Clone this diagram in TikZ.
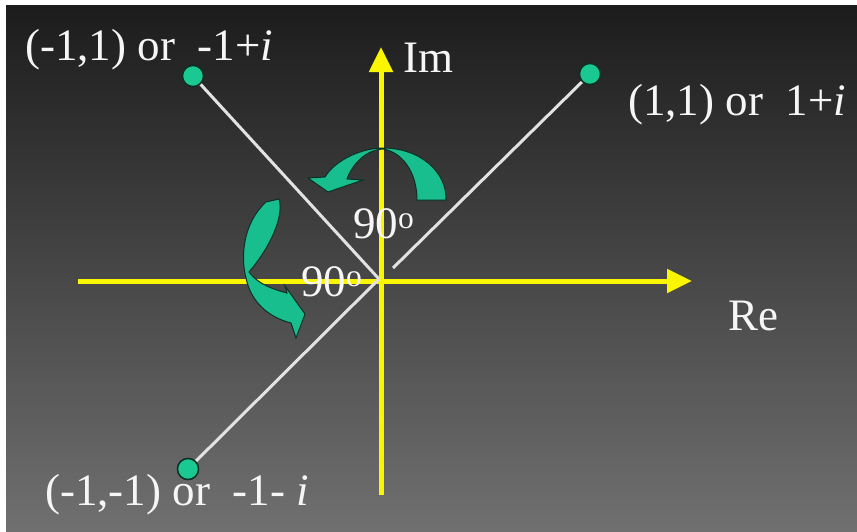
\documentclass[tikz,border=0pt]{standalone}
\usepackage{fontspec}
\setmainfont{Liberation Serif}
\usetikzlibrary{arrows.meta}
\definecolor{bgtop}{RGB}{28,28,28}
\definecolor{bgmid}{RGB}{62,62,62}
\definecolor{bgbot}{RGB}{112,112,112}
\definecolor{dotfill}{RGB}{26,200,146}
\definecolor{dotline}{RGB}{12,48,36}
\definecolor{arrfill}{RGB}{24,190,142}
\definecolor{axisyellow}{RGB}{250,246,0}
\definecolor{txt}{RGB}{246,246,246}
\tikzset{
  axis/.style={draw=axisyellow, line width=5pt, -{Triangle[length=25pt,width=23pt]}},
  ray/.style={draw=txt!92!black, line width=3pt},
  pt/.style={circle, fill=dotfill, draw=dotline, line width=1.4pt, minimum size=21pt, inner sep=0pt},
  lbl/.style={anchor=base west, text=txt, inner sep=0pt, font=\fontsize{45}{52}\selectfont},
  curvarrow/.style={fill=arrfill, draw=dotline, line width=1pt, line join=miter}
}
\begin{document}
\begin{tikzpicture}[x=1pt,y=-1pt]
\useasboundingbox (0,0) rectangle (857,531);
\fill[white] (0,0) rectangle (857,531);
\shade[top color=bgtop, middle color=bgmid, bottom color=bgbot] (6,5) rectangle (857,531);

% axes
\coordinate (O) at (381,281);
\coordinate (ybot) at (381,495);
\coordinate (ytop) at (381,47);
\coordinate (xleft) at (78,281);
\coordinate (xright) at (692,281);
\draw[axis] (xleft) -- (xright);
\draw[axis] (ybot) -- (ytop);

% points
\node[pt] (p1) at (193,76) {};
\node[pt] (p2) at (590,74) {};
\node[pt] (p3) at (188,469) {};
\coordinate (o1) at (379,279);
\coordinate (o2) at (393,268);
\draw[ray] (p1) -- (o1);
\draw[ray] (p3) -- (o1);
\draw[ray] (p2) -- (o2);
\node[pt] at (193,76) {};
\node[pt] at (590,74) {};
\node[pt] at (188,469) {};

% curved arrows
\draw[curvarrow] (417,200) -- (446,200)
  .. controls (447,172) and (420,148) .. (383,148)
  .. controls (362,148) and (335,160) .. (325,177)
  -- (308,178) -- (328,192) -- (363,180) -- (347,179)
  .. controls (352,165) and (365,150) .. (383,149)
  .. controls (402,152) and (417,172) .. cycle;

\draw[curvarrow] (266,202) -- (279,199)
  .. controls (284,215) and (272,245) .. (249,272)
  .. controls (258,284) and (272,289) .. (287,293)
  -- (285,286) -- (305,314) -- (296,338) -- (291,323)
  .. controls (268,317) and (251,302) .. (246,278)
  .. controls (240,255) and (244,222) .. cycle;

% labels
\node[lbl] (l1) at (25,60) {(-1,1) or~~-1+\textit{i}};
\node[lbl] (lim) at (403,72) {Im};
\node[lbl] (l2) at (628,115) {(1,1) or~~1+\textit{i}};
\node[lbl] (a1) at (353,238) {90\textsuperscript{o}};
\node[lbl] (a2) at (301,296) {90\textsuperscript{o}};
\node[lbl] (lre) at (728,330) {Re};
\node[lbl] (l3) at (45,505) {(-1,-1) or~~-1-~\textit{i}};
\end{tikzpicture}
\end{document}
